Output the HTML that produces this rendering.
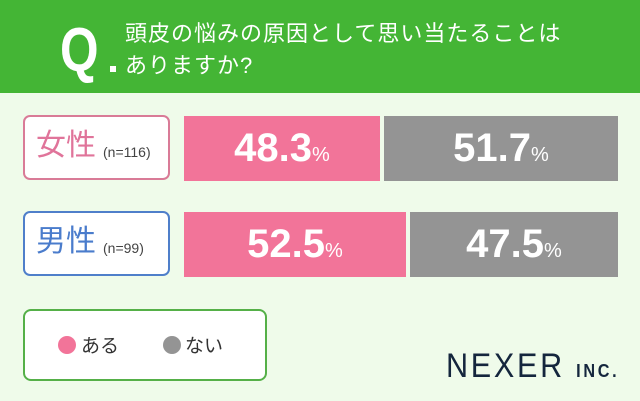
<!DOCTYPE html>
<html><head><meta charset="utf-8"><style>
body{margin:0;width:640px;height:401px;background:#effbea;position:relative;overflow:hidden;font-family:"Liberation Sans","Noto Sans CJK JP",sans-serif}
.hd{position:absolute;left:0;top:0;width:640px;height:93px;background:#44b535}
.q{position:absolute;left:60px;top:20px;color:#fff;font-size:62px;font-weight:bold;line-height:62px;transform:scaleX(0.8);transform-origin:left}
.dot{position:absolute;left:110px;top:66px;width:6px;height:6px;background:#fff}
.t{position:absolute;left:125px;color:#fff;font-size:22px;line-height:28px;letter-spacing:1px}
.box{position:absolute;left:23px;width:143px;height:61px;background:#fff;border-radius:7px;border:2px solid}
.box .b{position:absolute;left:11px;top:11px;font-size:30px;line-height:36px}
.box .s{position:absolute;top:27px;font-size:14px;color:#444}
.bar{position:absolute;color:#fff;font-size:40px;font-weight:bold;text-align:center;line-height:65px;height:65px}
.bar small{font-size:20px;font-weight:normal}
.pk{background:#f27499}.gy{background:#949494}
.lg{position:absolute;left:23px;top:309px;width:240px;height:68px;background:#fff;border:2px solid #55b048;border-radius:8px}
.c{position:absolute;top:25px;width:18px;height:18px;border-radius:50%}
.lt{position:absolute;top:20px;font-size:19px;color:#333}
.nx{position:absolute;left:446px;top:347px;font-size:34px;color:#14263d;letter-spacing:3px;transform:scaleX(0.9);transform-origin:left}
.nx span{font-size:18px;font-weight:bold;letter-spacing:3px}
</style></head><body>
<div class="hd"></div>
<div class="q">Q</div><div class="dot"></div>
<div class="t" style="top:20px">頭皮の悩みの原因として思い当たることは</div>
<div class="t" style="top:52px">ありますか?</div>

<div class="box" style="top:115px;border-color:#d97b97"><span class="b" style="color:#e0749a">女性</span><span class="s" style="left:78px">(n=116)</span></div>
<div class="bar pk" style="left:184px;top:116px;width:196px">48.3<small>%</small></div>
<div class="bar gy" style="left:384px;top:116px;width:234px">51.7<small>%</small></div>

<div class="box" style="top:211px;border-color:#4f7fca"><span class="b" style="color:#4a7ccc">男性</span><span class="s" style="left:78px">(n=99)</span></div>
<div class="bar pk" style="left:184px;top:212px;width:222px">52.5<small>%</small></div>
<div class="bar gy" style="left:410px;top:212px;width:208px">47.5<small>%</small></div>

<div class="lg">
<div class="c" style="left:33px;background:#f27499"></div><div class="lt" style="left:56px">ある</div>
<div class="c" style="left:138px;background:#949494"></div><div class="lt" style="left:160px">ない</div>
</div>
<div class="nx">NEXER <span>INC.</span></div>
</body></html>
